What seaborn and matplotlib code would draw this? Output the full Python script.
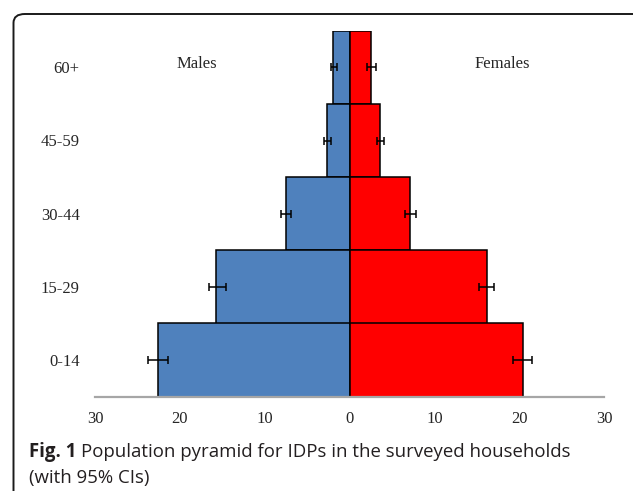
import numpy as np
import pandas as pd
import matplotlib
matplotlib.use('Agg')
import matplotlib.pyplot as plt
from matplotlib.patches import FancyBboxPatch
import seaborn as sns

# Age groups, top to bottom
ages = ['60+', '45-59', '30-44', '15-29', '0-14']

# Percent of population
males = [1.9, 2.65, 7.45, 15.7, 22.6]
females = [2.55, 3.6, 7.15, 16.15, 20.4]

# 95% CI bounds
males_lo = [1.5, 2.2, 6.85, 14.6, 21.4]
males_hi = [2.2, 3.05, 8.1, 16.6, 23.75]
females_lo = [2.1, 3.2, 6.6, 15.25, 19.25]
females_hi = [3.1, 4.1, 7.8, 17.0, 21.55]

xticks = [-30, -20, -10, 0, 10, 20, 30]
xticklabels = ['30', '20', '10', '0', '10', '20', '30']

df = pd.DataFrame({'age': ages, 'Males': males, 'Females': females})
df['Males_neg'] = -df['Males']

sns.set_style('white')
serif = ['Liberation Serif', 'DejaVu Serif']
sans = ['Open Sans', 'DejaVu Sans']

fig = plt.figure(figsize=(6.33, 4.91), dpi=100)
ax = fig.add_axes([95 / 633, 1 - 396.7 / 491, 509 / 633, 366 / 491])

sns.barplot(data=df, x='Males_neg', y='age', orient='h', order=ages,
            color='#4F81BD', edgecolor='black', linewidth=1.1,
            width=1.0, errorbar=None, saturation=1, ax=ax)
sns.barplot(data=df, x='Females', y='age', orient='h', order=ages,
            color='#FF0000', edgecolor='black', linewidth=1.1,
            width=1.0, errorbar=None, saturation=1, ax=ax)

pos = np.arange(len(ages))
m = np.array(males)
f = np.array(females)
ax.errorbar(-m, pos, xerr=[np.array(males_hi) - m, m - np.array(males_lo)],
            fmt='none', ecolor='black', elinewidth=1.1, capsize=3, capthick=1.1)
ax.errorbar(f, pos, xerr=[f - np.array(females_lo), np.array(females_hi) - f],
            fmt='none', ecolor='black', elinewidth=1.1, capsize=3, capthick=1.1)

ax.set_xlim(-30, 30)
ax.set_ylim(4.5, -0.5)
ax.set_xticks(xticks)
ax.set_xticklabels(xticklabels, family=serif, fontsize=12)
ax.set_yticks(pos)
ax.set_yticklabels(ages, family=serif, fontsize=12)
ax.tick_params(axis='both', length=0)
ax.tick_params(axis='y', pad=11)
ax.tick_params(axis='x', pad=10)
ax.set_xlabel('')
ax.set_ylabel('')
for s in ['left', 'top', 'right']:
    ax.spines[s].set_visible(False)
ax.spines['bottom'].set_color('#A6A6A6')
ax.spines['bottom'].set_linewidth(1.6)

ax.text(-18, -0.05, 'Males', ha='center', va='center', family=serif, fontsize=12)
ax.text(18, -0.05, 'Females', ha='center', va='center', family=serif, fontsize=12)

# caption
cap = '#231F20'
t1 = fig.text(29 / 633, 1 - 457 / 491, 'Fig. 1', fontsize=13.4, fontweight='bold',
              family=sans, color=cap, va='baseline')
fig.canvas.draw()
bb = t1.get_window_extent()
fig.text((bb.x1 + 5) / 633, 1 - 457 / 491,
         'Population pyramid for IDPs in the surveyed households',
         fontsize=13.4, family=sans, color=cap, va='baseline')
fig.text(29 / 633, 1 - 483 / 491, '(with 95% CIs)', fontsize=13.4,
         family=sans, color=cap, va='baseline')

# rounded frame around the figure
frame = FancyBboxPatch((13.5 / 633, -0.05), 1.0, 1 - 14 / 491 + 0.05,
                       boxstyle='round,pad=0,rounding_size=0.018',
                       transform=fig.transFigure, fill=False,
                       edgecolor='#1a1a1a', linewidth=1.4, clip_on=False)
fig.patches.append(frame)

fig.savefig('out.png', dpi=100)
